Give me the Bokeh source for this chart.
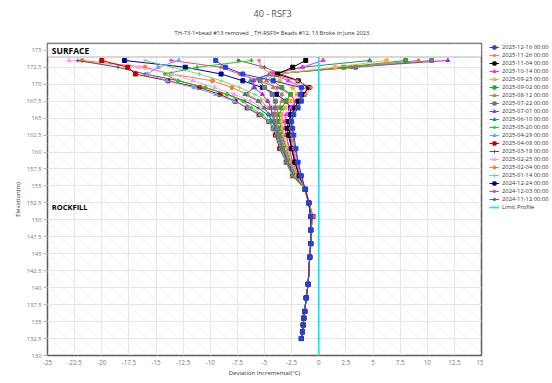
from bokeh.plotting import figure
from bokeh.layouts import row
from bokeh.models import (Legend, LegendItem, Label, FixedTicker, CustomJSTickFormatter,
                          BoxAnnotation, Title)
from bokeh.embed import file_html
from bokeh.resources import INLINE

# ---------------- data ----------------
elevation = [173.5, 172.5, 171.5, 170.5, 169.5, 168.5, 167.5, 166.5, 165.5, 164.5, 163.5, 162.5,
             160.5, 158.5, 156.5, 154.5, 152.5, 150.5, 148.5, 146.5, 144.5, 140.5, 138.5, 136.5,
             135.5, 134.5, 133.5, 132.5]

d_2025_12_16 = [-9.5, -8.6, -7.0, -4.2, -1.6, -1.7, -1.6, -1.9, -2.3, -2.5, -2.4, -2.3, -2.1, -1.9, -1.6,
                -1.25, -0.92, -0.72, -0.74, -0.74, -0.83, -0.98, -1.16, -1.29, -1.38, -1.43, -1.50, -1.60]
d_2025_11_26 = [-5.5, -5.3, -4.4, -2.0, -0.7, -1.2, -1.6, -2.0, -2.4, -2.6, -2.6, -2.5, -2.3, -2.0, -1.7,
                -1.30, -0.95, -0.49, -0.72, -0.74, -0.83, -0.98, -1.16, -1.29, -1.38, -1.43, -1.50, -1.60]
d_2025_11_04 = [-1.2, -2.4, -3.8, -1.9, -0.9, -1.4, -1.9, -2.2, -2.5, -2.8, -2.9, -2.8, -2.5, -2.2, -1.8,
                -1.25, -0.92, -0.72, -0.74, -0.74, -0.83, -0.98, -1.16, -1.29, -1.38, -1.43, -1.50, -1.60]
d_2025_10_14 = [0.4, -1.5, -4.2, -2.8, -1.5, -1.6, -2.1, -2.6, -3.0, -3.1, -3.1, -3.0, -2.7, -2.4, -1.9,
                -1.20, -0.88, -0.78, -0.76, -0.75, -0.84, -0.99, -1.16, -1.29, -1.38, -1.43, -1.50, -1.60]
d_2025_09_23 = [6.25, 1.5, -3.9, -3.6, -2.4, -2.0, -2.6, -3.1, -3.4, -3.4, -3.3, -3.2, -2.9, -2.5, -2.0,
                -1.25, -0.92, -0.72, -0.74, -0.74, -0.83, -0.98, -1.16, -1.29, -1.38, -1.43, -1.50, -1.60]
d_2025_09_02 = [8.0, 2.3, -4.0, -4.2, -3.4, -2.6, -3.0, -3.4, -3.6, -3.6, -3.5, -3.4, -3.0, -2.6, -2.1,
                -1.28, -0.94, -0.70, -0.74, -0.74, -0.83, -0.98, -1.16, -1.29, -1.38, -1.43, -1.50, -1.60]
d_2025_08_12 = [9.2, 2.8, -4.1, -4.8, -4.2, -3.4, -3.4, -3.7, -3.9, -3.8, -3.7, -3.5, -3.1, -2.7, -2.2,
                -1.25, -0.92, -0.72, -0.74, -0.74, -0.83, -0.98, -1.16, -1.29, -1.38, -1.43, -1.50, -1.60]
d_2025_07_22 = [10.4, 3.4, -4.3, -5.4, -5.0, -4.3, -4.0, -4.0, -4.1, -4.0, -3.8, -3.6, -3.2, -2.8, -2.2,
                -1.30, -0.95, -0.75, -0.74, -0.74, -0.83, -0.98, -1.16, -1.29, -1.38, -1.43, -1.50, -1.60]
d_2025_07_01 = [11.9, 3.0, -4.5, -6.0, -6.0, -5.2, -4.7, -4.4, -4.3, -4.1, -3.9, -3.7, -3.3, -2.9, -2.3,
                -1.25, -0.92, -0.72, -0.74, -0.74, -0.83, -0.98, -1.16, -1.29, -1.38, -1.43, -1.50, -1.60]
d_2025_06_10 = [4.7, -1.5, -4.5, -6.3, -5.9, -6.8, -5.6, -5.0, -4.6, -4.3, -4.0, -3.8, -3.4, -2.9, -2.3,
                -1.25, -0.92, -0.72, -0.74, -0.74, -0.83, -0.98, -1.16, -1.29, -1.38, -1.43, -1.50, -1.60]
d_2025_05_20 = [-6.2, -11.2, -14.2, -13.0, -10.4, -8.5, -7.0, -6.2, -5.2, -4.5, -4.1, -3.9, -3.5, -3.0, -2.4,
                -1.25, -0.92, -0.72, -0.74, -0.74, -0.83, -0.98, -1.16, -1.29, -1.38, -1.43, -1.50, -1.60]
d_2025_04_29 = [-12.9, -14.8, -15.8, -14.0, -11.5, -9.5, -7.8, -6.5, -5.4, -4.6, -4.2, -3.9, -3.5, -3.0, -2.4,
                -1.25, -0.92, -0.72, -0.74, -0.74, -0.83, -0.98, -1.16, -1.29, -1.38, -1.43, -1.50, -1.60]
d_2025_04_08 = [-20.0, -17.6, -16.9, -13.9, -11.0, -9.1, -7.7, -6.6, -5.5, -4.6, -4.2, -4.0, -3.6, -3.0, -2.4,
                -1.22, -0.90, -0.52, -0.74, -0.74, -0.83, -0.98, -1.16, -1.29, -1.38, -1.43, -1.50, -1.60]
d_2025_03_18 = [-22.2, -18.5, -16.0, -12.9, -10.5, -8.4, -6.8, -5.6, -4.7, -4.2, -3.9, -3.7, -3.3, -2.8, -2.3,
                -1.25, -0.92, -0.72, -0.74, -0.74, -0.83, -0.98, -1.16, -1.29, -1.38, -1.43, -1.50, -1.60]
d_2025_02_25 = [-23.0, -16.6, -13.5, -11.6, -9.6, -7.8, -6.3, -5.2, -4.4, -3.9, -3.7, -3.5, -3.2, -2.7, -2.2,
                -1.25, -0.92, -0.72, -0.74, -0.74, -0.83, -0.98, -1.16, -1.29, -1.38, -1.43, -1.50, -1.60]
d_2025_02_04 = [-21.8, -16.0, -13.6, -9.8, -8.0, -6.6, -5.4, -4.6, -4.0, -3.6, -3.4, -3.3, -3.0, -2.6, -2.1,
                -1.25, -0.92, -0.72, -0.74, -0.74, -0.83, -0.98, -1.16, -1.29, -1.38, -1.43, -1.50, -1.60]
d_2025_01_14 = [-16.0, -13.5, -11.0, -9.0, -7.3, -5.9, -4.8, -4.0, -3.5, -3.2, -3.1, -3.0, -2.8, -2.4, -2.0,
                -1.25, -0.92, -0.72, -0.74, -0.74, -0.83, -0.98, -1.16, -1.29, -1.38, -1.43, -1.50, -1.60]
d_2024_12_24 = [-17.9, -12.3, -9.0, -7.0, -5.2, -3.9, -3.0, -2.6, -2.6, -2.7, -2.7, -2.7, -2.5, -2.2, -1.8,
                -1.25, -0.92, -0.72, -0.74, -0.74, -0.83, -0.98, -1.16, -1.29, -1.38, -1.43, -1.50, -1.60]
d_2024_12_03 = [-13.6, -9.0, -7.3, -5.5, -3.8, -2.6, -2.2, -2.3, -2.5, -2.6, -2.6, -2.6, -2.4, -2.1, -1.7,
                -1.25, -0.92, -0.72, -0.74, -0.74, -0.83, -0.98, -1.16, -1.29, -1.38, -1.43, -1.50, -1.60]
d_2024_11_12 = [-7.4, -5.0, -3.5, -1.8, -1.1, -1.3, -1.7, -2.1, -2.4, -2.5, -2.5, -2.4, -2.2, -1.9, -1.6,
                -1.25, -0.92, -0.72, -0.74, -0.74, -0.83, -0.98, -1.16, -1.29, -1.38, -1.43, -1.50, -1.60]

series_labels = ["2025-12-16 00:00", "2025-11-26 00:00", "2025-11-04 00:00", "2025-10-14 00:00",
                 "2025-09-23 00:00", "2025-09-02 00:00", "2025-08-12 00:00", "2025-07-22 00:00",
                 "2025-07-01 00:00", "2025-06-10 00:00", "2025-05-20 00:00", "2025-04-29 00:00",
                 "2025-04-08 00:00", "2025-03-18 00:00", "2025-02-25 00:00", "2025-02-04 00:00",
                 "2025-01-14 00:00", "2024-12-24 00:00", "2024-12-03 00:00", "2024-11-12 00:00"]
series_values = [d_2025_12_16, d_2025_11_26, d_2025_11_04, d_2025_10_14, d_2025_09_23, d_2025_09_02,
                 d_2025_08_12, d_2025_07_22, d_2025_07_01, d_2025_06_10, d_2025_05_20, d_2025_04_29,
                 d_2025_04_08, d_2025_03_18, d_2025_02_25, d_2025_02_04, d_2025_01_14, d_2024_12_24,
                 d_2024_12_03, d_2024_11_12]
series_colors = ["#2443d6", "#ff7070", "#000000", "#ff22ff", "#ffa64d", "#33a333", "#b5835f", "#777777",
                 "#9b30d0", "#1e8c8c", "#22cc22", "#6f9fff", "#c00000", "#555555", "#ff9cf0", "#f08040",
                 "#80d080", "#000090", "#f0409a", "#666666"]
series_markers = ["square", "asterisk", "square", "triangle", "circle", "square", "triangle", "square",
                  "triangle", "triangle", "diamond", "triangle", "square", "cross", "triangle", "circle",
                  "cross", "square", "asterisk", "asterisk"]

limit_label = "Limit Profile"
limit_x = [0, 0]
limit_y = [130, 176]

x_ticks = [-25, -22.5, -20, -17.5, -15, -12.5, -10, -7.5, -5, -2.5, 0, 2.5, 5, 7.5, 10, 12.5, 15]
y_ticks = [130, 132.5, 135, 137.5, 140, 142.5, 145, 147.5, 150, 152.5, 155, 157.5, 160, 162.5,
           165, 167.5, 170, 172.5, 175]

title_text = "40 - RSF3"
subtitle_text = "TH-73-1=bead #13 removed _ TH-RSF3= Beads #12, 13 Broke in June 2023."
x_label = "Deviation Incremental(°C)"
y_label = "Elevation(m)"
surface_text = "SURFACE"
rockfill_text = "ROCKFILL"
surface_bottom = 174
rockfill_y = 151.9

FONT = "Open Sans"
LIMIT_COLOR = "#19e6f0"

# ---------------- main figure ----------------
p = figure(width=483, height=383, x_range=(-25, 15), y_range=(130, 176),
           output_backend="svg", toolbar_location=None,
           min_border_left=47, min_border_right=2, min_border_top=43, min_border_bottom=28)
p.background_fill_color = "white"
p.border_fill_color = "white"
p.outline_line_color = "#5a5a5a"
p.outline_line_width = 1.5

# titles (subtitle first = closest to the plot)
p.add_layout(Title(text=subtitle_text, text_font=FONT, text_font_size="5.7px",
                   text_font_style="normal", text_color="#333333", align="left",
                   offset=127, standoff=14), "above")
p.add_layout(Title(text=title_text, text_font=FONT, text_font_size="9px",
                   text_font_style="normal", text_color="#555555", align="left",
                   offset=206, standoff=0), "above")

# hatch background
p.add_layout(BoxAnnotation(fill_color=None, line_color=None, hatch_pattern="diagonal_cross",
                           hatch_color="#f1f1f1", hatch_scale=16, hatch_weight=0.8, level="underlay"))

p.xgrid.grid_line_color = "#e6e6e6"
p.ygrid.grid_line_color = "#e6e6e6"

p.xaxis.ticker = FixedTicker(ticks=x_ticks)
p.yaxis.ticker = FixedTicker(ticks=y_ticks)
p.xaxis.formatter = CustomJSTickFormatter(code="return String(tick)")
p.yaxis.formatter = CustomJSTickFormatter(code="return String(tick)")

for ax in (p.xaxis[0], p.yaxis[0]):
    ax.axis_line_color = None
    ax.major_label_text_font = FONT
    ax.major_label_text_color = "#777777"
    ax.minor_tick_line_color = None
    ax.minor_tick_out = 0
    ax.minor_tick_in = 0
    ax.axis_label_text_font = FONT
    ax.axis_label_text_font_size = "6px"
    ax.axis_label_text_font_style = "normal"
    ax.axis_label_text_color = "#333333"
p.xaxis.major_label_text_font_size = "6.2px"
p.yaxis.major_label_text_font_size = "5.8px"
p.xaxis.major_tick_line_color = None
p.xaxis.major_tick_out = 0
p.xaxis.major_tick_in = 0
p.xaxis.major_label_standoff = 4
p.xaxis.axis_label = x_label
p.xaxis.axis_label_standoff = 1
p.yaxis.major_tick_line_color = "#bbbbbb"
p.yaxis.major_tick_in = 0
p.yaxis.major_tick_out = 4
p.yaxis.major_label_standoff = 2
p.yaxis.axis_label = y_label
p.yaxis.axis_label_standoff = 2

for lab, vals, col, mk in reversed(list(zip(series_labels, series_values, series_colors, series_markers))):
    p.line(vals, elevation, line_color=col, line_width=1)
    p.scatter(vals, elevation, marker=mk, size=4, fill_color=col, line_color=col, line_width=1)

p.line(limit_x, limit_y, line_color=LIMIT_COLOR, line_width=1.8)

# surface box
p.add_layout(BoxAnnotation(bottom=surface_bottom, fill_color="white", fill_alpha=1,
                           line_color="#5a5a5a", line_width=1.5, level="overlay"))

p.add_layout(Label(x=-24.6, y=175.0, text=surface_text, text_font=FONT,
                   text_font_size="8.5px", text_font_style="bold", text_color="#000000",
                   text_baseline="middle", text_align="left", level="overlay"))
p.add_layout(Label(x=-24.6, y=rockfill_y, text=rockfill_text, text_font=FONT,
                   text_font_size="7.5px", text_font_style="bold", text_color="#000000",
                   text_baseline="middle", text_align="left"))

# ---------------- legend panel (separate figure on the right) ----------------
# Its renderers reuse the series data but lie outside this panel's ranges, so only
# the legend entries themselves are visible.
q = figure(width=69, height=383, x_range=(0, 1), y_range=(0, 1),
           output_backend="svg", toolbar_location=None,
           x_axis_type=None, y_axis_type=None,
           min_border_left=6, min_border_right=0, min_border_top=16, min_border_bottom=0)
q.outline_line_color = None
q.xgrid.visible = False
q.ygrid.visible = False
q.background_fill_color = "white"
q.border_fill_color = "white"

items = []
for lab, vals, col, mk in zip(series_labels, series_values, series_colors, series_markers):
    lr = q.line(vals, elevation, line_color=col, line_width=1)
    sr = q.scatter(vals, elevation, marker=mk, size=4, fill_color=col, line_color=col, line_width=1)
    items.append(LegendItem(label=lab, renderers=[lr, sr]))
lim_r = q.line(limit_x, limit_y, line_color=LIMIT_COLOR, line_width=1.8)
items.append(LegendItem(label=limit_label, renderers=[lim_r]))

legend = Legend(items=items, location="top_left", orientation="vertical",
                label_text_font=FONT, label_text_font_size="5.8px", label_text_color="#333333",
                label_height=8, glyph_height=8, glyph_width=10, label_standoff=3,
                spacing=0, padding=0, margin=0, border_line_color=None,
                background_fill_alpha=0)
q.add_layout(legend, "center")

layout = row(p, q, spacing=0)
open("out.html", "w").write(file_html(layout, INLINE))
